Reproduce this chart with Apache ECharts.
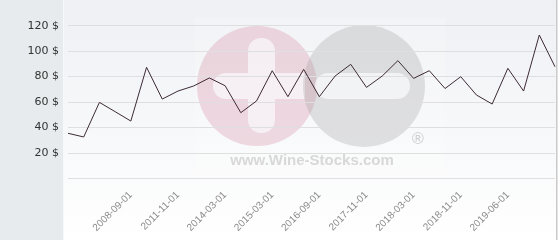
<!DOCTYPE html>
<html>
<head>
<meta charset="utf-8">
<script src="https://cdn.jsdelivr.net/npm/echarts@6/dist/echarts.min.js"></script>
<style>
  html, body { margin: 0; padding: 0; background: #ffffff; }
  #chart { width: 560px; height: 240px; }
</style>
</head>
<body>
<div id="chart"></div>
<script>
// Categories (only the labelled dates are known; others are unlabeled points)
const categories = [
  '', '', '', '', '2008-09-01', '', '', '2011-11-01', '', '',
  '2014-03-01', '', '', '2015-03-01', '', '', '2016-09-01', '', '',
  '2017-11-01', '', '', '2018-03-01', '', '', '2018-11-01', '', '',
  '2019-06-01', '', '', ''
];
const prices = [
  35.4, 32.5, 59.7, 52.4, 45.0, 87.3, 62.3, 68.6, 72.6, 78.9,
  72.8, 51.6, 60.8, 84.6, 64.2, 85.7, 64.2, 80.4, 89.6, 71.5,
  80.4, 92.5, 78.6, 84.6, 70.6, 79.9, 65.5, 58.4, 86.5, 68.6,
  112.7, 87.7
];
const yTicks = [0, 20, 40, 60, 80, 100, 120];
const currency = '$';

const chart = echarts.init(document.getElementById('chart'), null, { renderer: 'canvas' });

const option = {
  animation: false,
  backgroundColor: '#ffffff',
  graphic: [
    { type: 'rect', z: -10, silent: true, shape: { x: 0, y: 0, width: 63, height: 240 }, style: { fill: '#e7ebee' } },
    { type: 'rect', z: -10, silent: true, shape: { x: 63, y: 0, width: 494, height: 240 },
      style: { fill: new echarts.graphic.LinearGradient(0, 0, 0, 1, [
        { offset: 0, color: '#eef0f4' }, { offset: 1, color: '#ffffff' }
      ]) } },
    { type: 'rect', z: -9, silent: true, shape: { x: 63, y: 0, width: 1, height: 240 }, style: { fill: '#f7f8f9' } },
    { type: 'rect', z: -9, silent: true, shape: { x: 556, y: 0, width: 1.5, height: 240 }, style: { fill: '#c9c9c9' } },
    // watermark (semi-transparent so the grid shows through)
    { type: 'rect', z: -9, silent: true, shape: { x: 195, y: 18, width: 250, height: 160 }, style: { fill: 'rgba(255,255,255,0.2)' } },
    { type: 'circle', z: -8, silent: true, shape: { cx: 257, cy: 86, r: 60 }, style: { fill: 'rgba(205,110,140,0.24)' } },
    { type: 'rect', z: -8, silent: true, shape: { x: 248, y: 38, width: 27, height: 95, r: 13 }, style: { fill: 'rgba(250,250,252,0.72)' } },
    { type: 'rect', z: -8, silent: true, shape: { x: 213, y: 73, width: 35, height: 26, r: [13, 0, 0, 13] }, style: { fill: 'rgba(250,250,252,0.72)' } },
    { type: 'rect', z: -8, silent: true, shape: { x: 275, y: 73, width: 30, height: 26 }, style: { fill: 'rgba(250,250,252,0.72)' } },
    { type: 'circle', z: -7, silent: true, shape: { cx: 364, cy: 86, r: 61 }, style: { fill: 'rgba(150,150,150,0.27)' } },
    { type: 'rect', z: -7, silent: true, shape: { x: 315, y: 73, width: 95, height: 26, r: 13 }, style: { fill: 'rgba(250,250,252,0.75)' } },
    { type: 'text', z: -7, silent: true, style: { x: 312, y: 161, text: 'www.Wine-Stocks.com', fill: '#d8d8d8',
      font: 'bold 15px "Liberation Sans", Arial, sans-serif', align: 'center', verticalAlign: 'middle' } },
    { type: 'text', z: -7, silent: true, style: { x: 418, y: 140, text: '®', fill: '#cdcdcd',
      font: '16px "Liberation Sans", Arial, sans-serif', align: 'center', verticalAlign: 'middle' } }
  ],
  grid: { left: 68, right: 5, top: 25.7, bottom: 61.7, containLabel: false },
  xAxis: {
    type: 'category',
    data: categories,
    boundaryGap: false,
    axisLine: { show: false },
    axisTick: { show: false },
    splitLine: { show: false },
    axisLabel: {
      interval: 0,
      rotate: 45,
      margin: 15,
      fontSize: 10,
      color: '#8a8a8a',
      fontFamily: '"Liberation Sans", Arial, sans-serif'
    }
  },
  yAxis: {
    type: 'value',
    min: yTicks[0],
    max: yTicks[yTicks.length - 1],
    interval: yTicks[1] - yTicks[0],
    axisLine: { show: false },
    axisTick: { show: false },
    splitLine: { lineStyle: { color: '#dfdfe2', width: 1 } },
    axisLabel: {
      margin: 9,
      fontSize: 11,
      color: '#333333',
      fontFamily: '"DejaVu Sans", sans-serif',
      formatter: v => v === 0 ? '' : v + ' ' + currency
    }
  },
  series: [{
    type: 'line',
    data: prices,
    showSymbol: false,
    symbol: 'none',
    lineStyle: { color: '#3d2a35', width: 1 },
    z: 3
  }]
};
chart.setOption(option);
</script>
</body>
</html>
